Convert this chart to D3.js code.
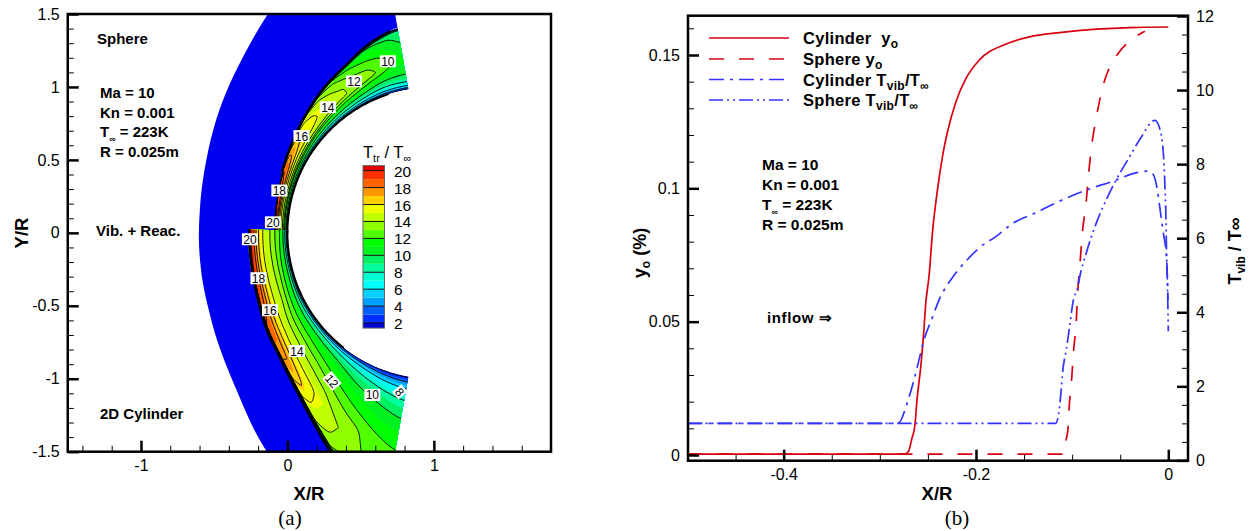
<!DOCTYPE html>
<html>
<head>
<meta charset="utf-8">
<script src="https://cdn.jsdelivr.net/npm/d3@7"></script>
<style>
html, body { margin: 0; padding: 0; background: #fff; }
svg { display: block; }
text { font-family: "Liberation Sans", Arial, sans-serif; fill: #000; }
</style>
</head>
<body>
<svg id="chart" width="1256" height="531"></svg>
<script>
// contour panel, polar read-offs around the body centre (X/R = 1, Y/R = 0)
var bandLevels = [1.4, 2, 3, 4, 5, 6, 7, 8, 9, 10, 11, 12, 13, 14, 15, 16, 17, 18, 19, 20];
var bandColors = ["#0000d8", "#0030ff", "#0060ff", "#00a0ff", "#00d0ff", "#00ffff", "#00ffd0", "#00ff9c", "#00f060",
    "#00f020", "#00ff00", "#50ff00", "#90ff00", "#c0ff00", "#f0ff00", "#ffd000", "#ff9800", "#ff6400", "#ff3000", "#e00000"];
var lineLevels = [2, 4, 6, 8, 10, 12, 13, 14, 15.3, 16.4, 17.5, 18.5, 20];
var legendTicks = [20, 18, 16, 14, 12, 10, 8, 6, 4, 2];

var sphereShockAngles = [0, 15, 24, 33, 44, 52.5, 63, 70, 80];
var sphereShockR = [1.09, 1.10, 1.125, 1.152, 1.20, 1.245, 1.302, 1.362, 1.43];
var sphereOuterAngles = [0, 6, 16, 25, 36, 44, 52, 60, 70, 80];
var sphereOuterR = [1.604, 1.606, 1.626, 1.663, 1.726, 1.786, 1.869, 1.97, 2.13, 2.35];
var cylShockAngles = [-1, 11, 19.4, 30.8, 39.3, 49.3, 57.5, 64.6, 72, 80];
var cylShockR = [1.268, 1.273, 1.283, 1.325, 1.358, 1.436, 1.538, 1.658, 1.8, 2.0];
var cylOuterAngles = [-1, 9, 22, 38, 52, 60, 70, 80];
var cylOuterR = [1.604, 1.61, 1.635, 1.72, 1.875, 1.98, 2.15, 2.4];

var gridS = [0, 0.04, 0.1, 0.2, 0.3, 0.45, 0.6, 0.75, 0.88, 0.96, 1];
var gridAngles = [0, 8, 16, 24, 32, 40, 48, 56, 64, 72, 80];
var sphereT = [
    [1.5, 6, 9, 11.5, 13, 14.5, 16, 18, 20, 21, 1],
    [1.5, 6, 9, 11.5, 13, 14.5, 16, 18, 20, 20.5, 1],
    [1.5, 6, 8.5, 11, 13, 14.5, 16.3, 18.2, 19.5, 19, 1],
    [1.5, 5.5, 8.5, 11, 13, 15, 16.8, 18.2, 18.4, 17, 1],
    [1.5, 5.5, 8, 11, 13, 14.8, 16.2, 17, 16.8, 15.5, 1],
    [1.5, 5, 8, 10.5, 12.8, 15, 15.9, 15.9, 15.4, 14.5, 1],
    [1.5, 5, 7.5, 10.5, 12.5, 14.7, 15, 14.8, 14.2, 13.2, 1],
    [1.5, 5, 7.5, 10, 12, 14.2, 14.2, 13.6, 13, 12, 1],
    [1.5, 4.5, 7, 9.5, 11.5, 13.5, 13.4, 12.6, 11.8, 10.5, 1],
    [1.5, 4.5, 7, 9, 10.8, 12.9, 12.6, 11.6, 10.8, 9.5, 1],
    [1.5, 5, 7.5, 9.5, 10.5, 11, 10.8, 10, 9.5, 8.5, 1]
];
var cylinderT = [
    [1.5, 6, 9.5, 12, 12.8, 14, 15, 16.5, 19, 20.7, 1],
    [1.5, 6, 9.5, 11.8, 12.8, 14, 15, 16.5, 19, 20.5, 1],
    [1.5, 6, 9.5, 11.5, 12.8, 14, 15, 16.5, 18.8, 20, 1],
    [1.5, 5.5, 9, 11.2, 12.5, 14, 15, 16.5, 18.5, 19, 1],
    [1.5, 5.5, 8.5, 11, 12.2, 13.5, 14.8, 16.3, 18.2, 18.3, 1],
    [1.5, 5.5, 8.5, 10.8, 12, 13.3, 14.5, 15.8, 17.6, 17.5, 1],
    [1.5, 5, 8, 10.5, 11.7, 13, 14.2, 15.5, 16.7, 16, 1],
    [1.5, 5, 7.5, 9.8, 11.2, 12.5, 13.8, 15.2, 15, 14.3, 1],
    [1.5, 4.5, 7, 9.2, 10.5, 12, 13.2, 14, 13.8, 13, 1],
    [1.5, 4, 6.5, 8.8, 10.2, 11.5, 12.9, 13, 12.5, 12, 1],
    [1.5, 4, 6.5, 8.6, 10, 11.5, 12.5, 12.8, 12, 11, 1]
];
// angle spans where packed contours read as a solid black edge
var sphereWallSpan = [0, 72];
var sphereShockSpan = [22, 78];
var cylWallSpan = [-1, 52];
var cylShockSpan = [14, 66];

// contour labels: value, X/R, Y/R, rotation
var contourLabels = [
    ["20", -0.099, 0.072, 0], ["18", -0.055, 0.29, 0], ["16", 0.096, 0.663, 0], ["14", 0.276, 0.861, 0],
    ["12", 0.454, 1.039, 0], ["10", 0.686, 1.176, 0],
    ["20", -0.256, -0.044, 0], ["18", -0.198, -0.311, 0], ["16", -0.119, -0.53, 0], ["14", 0.065, -0.81, 0],
    ["12", 0.304, -1.015, 50], ["10", 0.58, -1.111, 0], ["8", 0.768, -1.09, 50]
];

var xTicksA = [-1, 0, 1];
var xMinorA = [-1.4, -1.2, -0.8, -0.6, -0.4, -0.2, 0.2, 0.4, 0.6, 0.8, 1.2, 1.4, 1.6];
var yTicksA = [-1.5, -1, -0.5, 0, 0.5, 1, 1.5];
var yMinorA = [-1.4, -1.3, -1.2, -1.1, -0.9, -0.8, -0.7, -0.6, -0.4, -0.3, -0.2, -0.1, 0.1, 0.2, 0.3, 0.4, 0.6, 0.7, 0.8, 0.9, 1.1, 1.2, 1.3, 1.4];

// line panel
var xTicksB = [-0.4, -0.2, 0];
var xMinorB = [-0.45, -0.35, -0.3, -0.25, -0.15, -0.1, -0.05];
var yTicksB = [0, 0.05, 0.1, 0.15];
var yMinorB = [0.01, 0.02, 0.03, 0.04, 0.06, 0.07, 0.08, 0.09, 0.11, 0.12, 0.13, 0.14, 0.16];
var tTicks = [0, 2, 4, 6, 8, 10, 12];
var tMinor = [0.5, 1, 1.5, 2.5, 3, 3.5, 4.5, 5, 5.5, 6.5, 7, 7.5, 8.5, 9, 9.5, 10.5, 11, 11.5];

var cylYoX = [-0.5, -0.274, -0.2704, -0.2665, -0.2637, -0.261, -0.2574, -0.2547, -0.2522, -0.2487, -0.2453, -0.2401, -0.2349, -0.2296, -0.2209, -0.2104, -0.1966, -0.1687, -0.1444, -0.113, -0.0747, -0.04, 0];
var cylYoY = [0.0003, 0.0003, 0.0012, 0.0064, 0.0106, 0.0219, 0.0331, 0.0443, 0.057, 0.0675, 0.0832, 0.0993, 0.1118, 0.1212, 0.1324, 0.1412, 0.1481, 0.1541, 0.1568, 0.1584, 0.1597, 0.1603, 0.1605];
var sphYoX = [-0.5, -0.1089, -0.1071, -0.1044, -0.1033, -0.1008, -0.0984, -0.0956, -0.0943, -0.0922, -0.0894, -0.0852, -0.0828, -0.08, -0.0747, -0.0695, -0.0609, -0.0522, -0.0382, -0.0243];
var sphYoY = [0.0003, 0.0003, 0.0045, 0.0094, 0.0169, 0.027, 0.0394, 0.0506, 0.0607, 0.0701, 0.0832, 0.0956, 0.1057, 0.1151, 0.1268, 0.1362, 0.1455, 0.1506, 0.1558, 0.1589];
var cylTvX = [-0.5, -0.281, -0.2714, -0.2644, -0.2592, -0.254, -0.2453, -0.2383, -0.2261, -0.2104, -0.1966, -0.1791, -0.1618, -0.1374, -0.1165, -0.0852, -0.0574, -0.033, -0.0225, -0.0157, -0.0121, -0.0076, -0.0052, -0.0017, -0.0003];
var cylTvY = [1, 1, 1.56, 2.18, 2.72, 3.26, 3.86, 4.34, 4.88, 5.38, 5.74, 6.05, 6.4, 6.69, 6.96, 7.3, 7.54, 7.77, 7.81, 7.72, 7.41, 6.59, 6.15, 5.42, 4.34];
var sphTvX = [-0.5, -0.1172, -0.1141, -0.112, -0.1096, -0.1061, -0.1026, -0.0992, -0.0939, -0.0922, -0.0852, -0.0747, -0.0643, -0.0539, -0.0418, -0.0295, -0.0139, -0.0087, -0.0052, -0.0035, -0.0024, -0.0017, -0.001, 0];
var sphTvY = [1, 1, 1.24, 1.73, 2.45, 2.99, 3.62, 4.26, 4.7, 4.94, 5.61, 6.42, 7.05, 7.59, 8.13, 8.67, 9.18, 8.94, 8.32, 7.41, 6.51, 5.42, 4.88, 3.49];

var svg = d3.select("#chart");
var defs = svg.append("defs");

var xA = d3.scaleLinear([-1.5, 1.8], [67.75, 551]);
var yA = d3.scaleLinear([-1.5, 1.5], [451.7, 14]);
var xB = d3.scaleLinear([-0.5, 0], [687.5, 1168.3]);
var yB = d3.scaleLinear([0, 0.15], [455, 55]);
var yT = d3.scaleLinear([0, 12], [460.4, 16]);

var band = d3.scaleThreshold().domain(bandLevels.slice(1)).range(bandColors);
var line = d3.line();
var ringLine = d3.line().curve(d3.curveBasisClosed);

function polar(theta, r, sign) {
    var a = theta * Math.PI / 180;
    return [xA(1 - r * Math.cos(a)), yA(sign * r * Math.sin(a))];
}

// smooth boundary through the read-off points (cubic between neighbours)
function smoothAt(xs, ys) {
    var last = xs.length - 1;
    return function (t) {
        t = Math.max(xs[0], Math.min(xs[last], t));
        var i = Math.min(last - 1, Math.max(0, d3.bisectRight(xs, t) - 1));
        var a = Math.max(i - 1, 0), b = Math.min(i + 2, last);
        var h = xs[i + 1] - xs[i], u = (t - xs[i]) / h;
        var m0 = (ys[i + 1] - ys[a]) / (xs[i + 1] - xs[a]) * h;
        var m1 = (ys[b] - ys[i]) / (xs[b] - xs[i]) * h;
        return (2 * u * u * u - 3 * u * u + 1) * ys[i] + (u * u * u - 2 * u * u + u) * m0 +
            (-2 * u * u * u + 3 * u * u) * ys[i + 1] + (u * u * u - u * u) * m1;
    };
}

function regionPath(innerAt, outerAt, from, sign) {
    var angles = d3.range(from, 80, 1).concat([80]);
    var pts = angles.map(function (t) { return polar(t, innerAt(t), sign); });
    angles.slice().reverse().forEach(function (t) { pts.push(polar(t, outerAt(t), sign)); });
    return line(pts) + "Z";
}

function edgePath(at, span, sign) {
    return line(d3.range(span[0], span[1] + 1, 1).map(function (t) { return polar(t, at(t), sign); }));
}

defs.append("clipPath").attr("id", "frameA").append("rect")
    .attr("x", xA(-1.5)).attr("y", yA(1.5)).attr("width", xA(1.8) - xA(-1.5)).attr("height", yA(-1.5) - yA(1.5));

function drawField(name, table, shockAngles, shockR, outerAngles, outerR, wallSpan, shockSpan, sign) {
    var shockAt = smoothAt(shockAngles, shockR);
    var outerAt = smoothAt(outerAngles, outerR);
    var from = shockAngles[0];
    var wallAt = function () { return 1; };

    var g = svg.append("g").attr("clip-path", "url(#frameA)");
    g.append("path").attr("d", regionPath(shockAt, outerAt, from, sign)).attr("fill", "#0000f0");

    defs.append("clipPath").attr("id", name).append("path").attr("d", regionPath(wallAt, shockAt, from, sign));
    var inner = g.append("g").attr("clip-path", "url(#" + name + ")");

    // pad a row each side so the contour rings close outside the clip
    var rows = [table[0]].concat(table, [table[table.length - 1]]);
    var rowAngles = [-8].concat(gridAngles, [90]);
    var n = gridS.length, m = rows.length;
    var values = d3.merge(rows);
    var sAt = d3.scaleLinear(d3.range(n), gridS).clamp(true);
    var thetaAt = d3.scaleLinear(d3.range(m), rowAngles).clamp(true);

    function toPixel(p) {
        var s = sAt(p[0] - 0.5), t = thetaAt(p[1] - 0.5);
        return polar(t, 1 + s * (shockAt(t) - 1), sign);
    }
    function ringPath(ring) {
        var pts = [];
        for (var i = 0; i < ring.length - 1; i++) {
            for (var k = 0; k < 2; k++) {
                pts.push(toPixel([ring[i][0] + (ring[i + 1][0] - ring[i][0]) * k / 2, ring[i][1] + (ring[i + 1][1] - ring[i][1]) * k / 2]));
            }
        }
        return ringLine(pts);
    }
    function contourPath(level) {
        var c = d3.contours().size([n, m]).contour(values, level);
        return c.coordinates.map(function (poly) { return poly.map(ringPath).join(""); }).join("");
    }

    bandLevels.forEach(function (level) {
        inner.append("path").attr("d", contourPath(level)).attr("fill", band(level)).attr("fill-rule", "evenodd");
    });
    lineLevels.forEach(function (level) {
        inner.append("path").attr("d", contourPath(level)).attr("fill", "none").attr("stroke", "#000").attr("stroke-width", 0.9);
    });
    g.append("path").attr("d", edgePath(wallAt, wallSpan, sign)).attr("fill", "none").attr("stroke", "#000").attr("stroke-width", 2);
    g.append("path").attr("d", edgePath(shockAt, shockSpan, sign)).attr("fill", "none").attr("stroke", "#000").attr("stroke-width", 1.8);
}

drawField("fieldSphere", sphereT, sphereShockAngles, sphereShockR, sphereOuterAngles, sphereOuterR, sphereWallSpan, sphereShockSpan, 1);
drawField("fieldCyl", cylinderT, cylShockAngles, cylShockR, cylOuterAngles, cylOuterR, cylWallSpan, cylShockSpan, -1);

// contour labels
var labels = svg.selectAll("g.clabel").data(contourLabels).enter().append("g")
    .attr("class", "clabel")
    .attr("transform", function (d) { return "translate(" + xA(d[1]) + "," + yA(d[2]) + ") rotate(" + d[3] + ")"; });
labels.append("rect")
    .attr("x", function (d) { return d[0].length > 1 ? -8 : -5; })
    .attr("y", -6)
    .attr("width", function (d) { return d[0].length > 1 ? 16 : 10; })
    .attr("height", 12)
    .attr("fill", "#fff");
labels.append("text").text(function (d) { return d[0]; })
    .attr("text-anchor", "middle").attr("dy", 4.5).attr("font-size", 12);

// colour legend
var legendY = d3.scaleLinear([2, 20], [323, 170.7]);
var legend = svg.append("g");
bandLevels.forEach(function (level, i) {
    var top = i < bandLevels.length - 1 ? bandLevels[i + 1] : 20.6;
    legend.append("rect")
        .attr("x", 363).attr("width", 21.5)
        .attr("y", legendY(top)).attr("height", legendY(level) - legendY(top))
        .attr("fill", bandColors[i]);
});
legend.selectAll("line").data(legendTicks).enter().append("line")
    .attr("x1", 363).attr("x2", 384.5)
    .attr("y1", function (d) { return legendY(d); }).attr("y2", function (d) { return legendY(d); })
    .attr("stroke", "#111").attr("stroke-width", 1);
legend.append("rect").attr("x", 363).attr("y", legendY(20.6)).attr("width", 21.5).attr("height", legendY(1.4) - legendY(20.6))
    .attr("fill", "none").attr("stroke", "#666").attr("stroke-width", 1);
legend.selectAll("text.lt").data(legendTicks).enter().append("text").attr("class", "lt")
    .text(function (d) { return d; })
    .attr("x", 394).attr("y", function (d) { return legendY(d) + 6; })
    .attr("font-size", 15.5);

// text with sub parts, a part after a sub steps back up by its drop
function rich(x, y, parts, size, bold, subSize, anchor) {
    var t = svg.append("text").attr("x", x).attr("y", y).attr("font-size", size)
        .attr("font-weight", bold ? "bold" : "normal").attr("text-anchor", anchor || "start");
    var back = 0;
    parts.forEach(function (p) {
        var span = t.append("tspan").text(p[0]);
        if (p[1]) {
            span.attr("font-size", subSize).attr("dy", p[1]);
            back = p[1];
        } else if (back) {
            span.attr("dy", -back);
            back = 0;
        }
    });
    return t;
}

rich(363, 158, [["T"], ["tr", 4], [" / T"], ["\u221e", 4]], 16.5, false, 11);
rich(97, 44, [["Sphere"]], 15, true);
rich(96, 236, [["Vib. + Reac."]], 15, true);
rich(100, 419, [["2D Cylinder"]], 15, true);

var conditions = [[["Ma = 10"]], [["Kn = 0.001"]], [["T"], ["\u221e", 5], [" = 223K"]], [["R = 0.025m"]]];
conditions.forEach(function (parts, i) {
    rich(100, 98 + i * 19.6, parts, 15, true, 9);
    rich(762, 170 + i * 20, parts, 15.5, true, 9);
});
rich(767, 323, [["inflow \u21d2"]], 15, true).attr("letter-spacing", 0.6);

// line panel
var traces = [
    [cylYoX, cylYoY, yB, "#d80010", null],
    [sphYoX, sphYoY, yB, "#d80010", "15 15"],
    [cylTvX, cylTvY, yT, "#3333ff", "15 6 3 6"],
    [sphTvX, sphTvY, yT, "#3333ff", "14 4 2 4 2 4"]
];
var traceLine = d3.line().curve(d3.curveMonotoneX);
traces.forEach(function (tr) {
    var pts = d3.zip(tr[0], tr[1]).map(function (d) { return [xB(d[0]), tr[2](d[1])]; });
    svg.append("path").attr("d", traceLine(pts)).attr("fill", "none")
        .attr("stroke", tr[3]).attr("stroke-width", 1.7).attr("stroke-dasharray", tr[4]);
});

// legend of the line panel
var legendRows = [
    [[["Cylinder\u00a0\u00a0y"], ["o", 4]], 38],
    [[["Sphere y"], ["o", 4]], 59],
    [[["Cylinder T"], ["vib", 4], ["/T"], ["\u221e", 4]], 79.5],
    [[["Sphere T"], ["vib", 4], ["/T"], ["\u221e", 4]], 100]
];
legendRows.forEach(function (row, i) {
    svg.append("line").attr("x1", 709).attr("x2", 789).attr("y1", row[1]).attr("y2", row[1])
        .attr("stroke", traces[i][3]).attr("stroke-width", 1.7).attr("stroke-dasharray", traces[i][4]);
    rich(803, row[1] + 6, row[0], 16.5, true, 12).attr("letter-spacing", 0.3);
});

// axes
function styleAxis(g) {
    g.select(".domain").remove();
    g.selectAll("line").attr("stroke", "#000");
    g.selectAll("text").attr("font-size", 16).attr("font-family", "Liberation Sans");
}
function addAxis(axisFn, scale, major, minor, tx, ty, inward, fmt) {
    var gMajor = svg.append("g").attr("transform", "translate(" + tx + "," + ty + ")")
        .call(axisFn(scale).tickValues(major).tickSizeInner(inward * 11).tickSizeOuter(0).tickPadding(8).tickFormat(fmt));
    styleAxis(gMajor);
    gMajor.selectAll("line").attr("stroke-width", 2.5);
    var gMinor = svg.append("g").attr("transform", "translate(" + tx + "," + ty + ")")
        .call(axisFn(scale).tickValues(minor).tickSizeInner(inward * 6).tickSizeOuter(0));
    styleAxis(gMinor);
    gMinor.selectAll("text").remove();
    gMinor.selectAll("line").attr("stroke-width", 1);
}
var plain = function (d) { return String(d); };
addAxis(d3.axisLeft, yA, yTicksA, yMinorA, 67.75, 0, -1, plain);
addAxis(d3.axisBottom, xA, xTicksA, xMinorA, 0, 451.7, -1, plain);
addAxis(d3.axisLeft, yB, yTicksB, yMinorB, 688, 0, -1, plain);
addAxis(d3.axisBottom, xB, xTicksB, xMinorB, 0, 460.7, -1, plain);
addAxis(d3.axisRight, yT, tTicks, tMinor, 1188, 0, -1, plain);

svg.append("rect").attr("x", 67.75).attr("y", 14).attr("width", 551 - 67.75).attr("height", 451.7 - 14)
    .attr("fill", "none").attr("stroke", "#000").attr("stroke-width", 2.5);
svg.append("rect").attr("x", 688).attr("y", 15.7).attr("width", 500).attr("height", 445)
    .attr("fill", "none").attr("stroke", "#000").attr("stroke-width", 2.5);

// axis titles and captions
rich(309, 500, [["X/R"]], 18.5, true, 0, "middle");
rich(937, 500, [["X/R"]], 18.5, true, 0, "middle");
rich(0, 0, [["Y/R"]], 18.5, true, 0, "middle").attr("transform", "translate(28,233) rotate(-90)");
rich(0, 0, [["y"], ["o", 4], [" (%)"]], 18, true, 12, "middle").attr("transform", "translate(646,253) rotate(-90)");
rich(0, 0, [["T"], ["vib", 4], [" / T\u221e"]], 18, true, 12, "middle").attr("transform", "translate(1241,251) rotate(-90)");
svg.append("text").text("(a)").attr("x", 290).attr("y", 525).attr("text-anchor", "middle")
    .attr("font-size", 21).style("font-family", "Liberation Serif");
svg.append("text").text("(b)").attr("x", 957).attr("y", 525).attr("text-anchor", "middle")
    .attr("font-size", 21).style("font-family", "Liberation Serif");
</script>
</body>
</html>
